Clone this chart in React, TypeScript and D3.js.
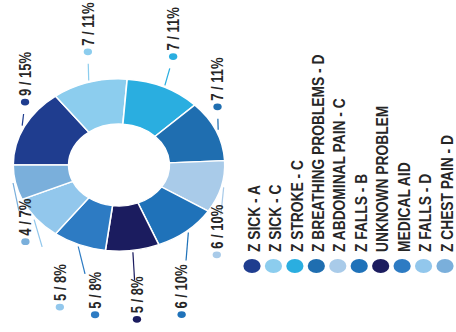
import React from 'react';
import * as d3 from 'd3';

const categories = [
  'Z SICK - A',
  'Z SICK - C',
  'Z STROKE - C',
  'Z BREATHING PROBLEMS - D',
  'Z ABDOMINAL PAIN - C',
  'Z FALLS - B',
  'UNKNOWN PROBLEM',
  'MEDICAL AID',
  'Z FALLS - D',
  'Z CHEST PAIN - D',
];
const counts = [9, 7, 7, 7, 6, 6, 5, 5, 5, 4];
const colors = [
  '#1f3d8f',
  '#8ccdee',
  '#2aaee0',
  '#1f6eb0',
  '#a9cbe9',
  '#1f72b9',
  '#1b1c5f',
  '#2d7bc3',
  '#92c7ec',
  '#7aafdb',
];
// label layout: polar anchor (degrees clockwise from top, radius) of each label's dot
const labelAngles = [-50.5, -12.6, 22.1, 54.0, 138.5, 161.2, 174.6, 187.4, 198.7, 224.8];
const labelRadii = [99, 116, 117, 99, 120, 158, 155, 151, 150, 108];

const W = 456;
const H = 332;
const SX = 1.23;
const CX = 119 / SX;
const CY = 165;
const R_OUT = 86;
const R_IN = 41;

const FONT = '"Liberation Sans", Arial, sans-serif';

export default function App() {
  const total = d3.sum(counts);
  const pie = d3
    .pie<number>()
    .sort(null)
    .startAngle(-Math.PI / 2)
    .endAngle((3 * Math.PI) / 2);
  const arcs = pie(counts);
  const arc = d3.arc<d3.PieArcDatum<number>>().innerRadius(R_IN).outerRadius(R_OUT);

  const legendX = d3
    .scalePoint<string>()
    .domain(categories)
    .range([252 / SX, 445 / SX]);

  const polar = (deg: number, r: number) => {
    const a = (deg * Math.PI) / 180;
    return [r * Math.sin(a), -r * Math.cos(a)];
  };

  return (
    <svg
      width={W}
      height={H}
      style={{ position: 'absolute', left: 0, top: 0, background: '#fff' }}
    >
      <g transform={`scale(${SX},1)`}>
        <g transform={`translate(${CX},${CY})`}>
          {arcs.map((a, i) => (
            <path key={i} d={arc(a) || ''} fill={colors[i]} stroke="#fff" strokeWidth={1.3} />
          ))}
          {arcs.map((a, i) => {
            const mid = ((a.startAngle + a.endAngle) / 2) * (180 / Math.PI);
            const [sx, sy] = polar(mid, R_OUT + 2);
            const [lx, ly] = polar(labelAngles[i], labelRadii[i]);
            const dx = lx - sx;
            const dy = ly - sy;
            const dist = Math.hypot(dx, dy);
            const len = Math.max(0, Math.min(dist - 12, 28));
            const ex = sx + (dx / dist) * len;
            const ey = sy + (dy / dist) * len;
            const pct = Math.round((counts[i] / total) * 100);
            return (
              <g key={'l' + i}>
                {len > 2 && (
                  <line x1={sx} y1={sy} x2={ex} y2={ey} stroke={colors[i]} strokeWidth={1} />
                )}
                <circle cx={lx} cy={ly} r={3.4} fill={colors[i]} />
                <text
                  transform={`translate(${lx},${ly - 6}) rotate(-90)`}
                  dy="0.36em"
                  fontFamily={FONT}
                  fontWeight="bold"
                  fontSize={13}
                  fill="#262626"
                >
                  {`${counts[i]} / ${pct}%`}
                </text>
              </g>
            );
          })}
        </g>
        {categories.map((c, i) => {
          const x = legendX(c) as number;
          return (
            <g key={'g' + i}>
              <circle cx={x} cy={266} r={7} fill={colors[i]} />
              <text
                transform={`translate(${x + 1.3},${252}) rotate(-90)`}
                dy="0.36em"
                fontFamily={FONT}
                fontWeight="bold"
                fontSize={13.8}
                fill="#262626"
              >
                {c}
              </text>
            </g>
          );
        })}
      </g>
    </svg>
  );
}
